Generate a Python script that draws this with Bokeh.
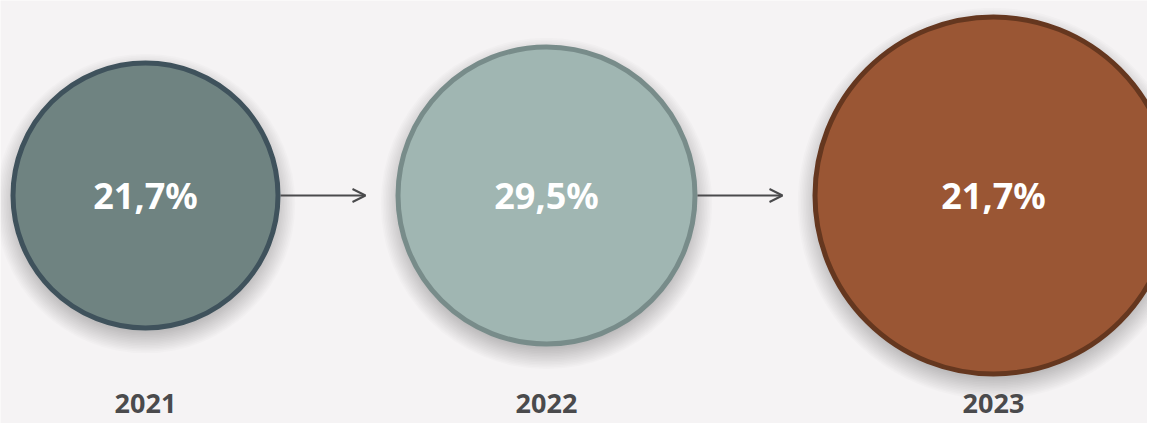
from bokeh.plotting import figure
from bokeh.models import Range1d, ColumnDataSource, Arrow, OpenHead
from bokeh.core.properties import value
from bokeh.embed import file_html
from bokeh.resources import INLINE

# Data
years = ["2021", "2022", "2023"]
shares = [21.7, 29.5, 21.7]
share_labels = [f"{v:.1f}%".replace(".", ",") for v in shares]

# Styles / layout (pixel coordinates)
fills = ["#6f8381", "#a0b6b2", "#9a5634"]
borders = ["#3f525c", "#788c8a", "#65371f"]
cx = [145, 546, 993]
cy = 195
outer_r = [135, 151, 181]
border_w = 5
bg = "#f5f3f4"

W, H = 1147, 423
p = figure(width=W, height=H, output_backend="svg", toolbar_location=None,
           x_range=Range1d(0, W), y_range=Range1d(H, 0),
           min_border=0, outline_line_color=None,
           background_fill_color=bg, border_fill_color=bg)
p.axis.visible = False
p.grid.visible = False

src = ColumnDataSource(dict(
    x=cx, y=[cy] * 3, r=[r - border_w / 2 for r in outer_r],
    fill=fills, line=borders, label=share_labels, year=years,
    ylab=[403] * 3,
))

# soft shadows
for k in range(14):
    p.circle(x=cx, y=[cy + 8] * 3, radius=[r + 1.6 * k - 6 for r in outer_r],
             fill_color="#000000", fill_alpha=0.014, line_color=None)

p.circle(x="x", y="y", radius="r", source=src, fill_color="fill",
         line_color="line", line_width=border_w)

p.text(x="x", y="y", text="label", source=src, text_color="white",
       text_font=value("Noto Sans"), text_font_style="bold",
       text_font_size="36px", text_align="center", text_baseline="middle")

p.text(x="x", y="ylab", text="year", source=src, text_color="#4a4a4c",
       text_font=value("Noto Sans"), text_font_style="bold",
       text_font_size="27px", text_align="center", text_baseline="middle")

# arrows between circles
for i in range(2):
    x0 = cx[i] + outer_r[i]
    x1 = cx[i + 1] - outer_r[i + 1] - 30
    p.add_layout(Arrow(x_start=x0, y_start=cy, x_end=x1, y_end=cy,
                       line_color="#4a4a4c", line_width=2,
                       end=OpenHead(size=13, line_color="#4a4a4c", line_width=2)))

open("out.html", "w").write(file_html(p, INLINE))
